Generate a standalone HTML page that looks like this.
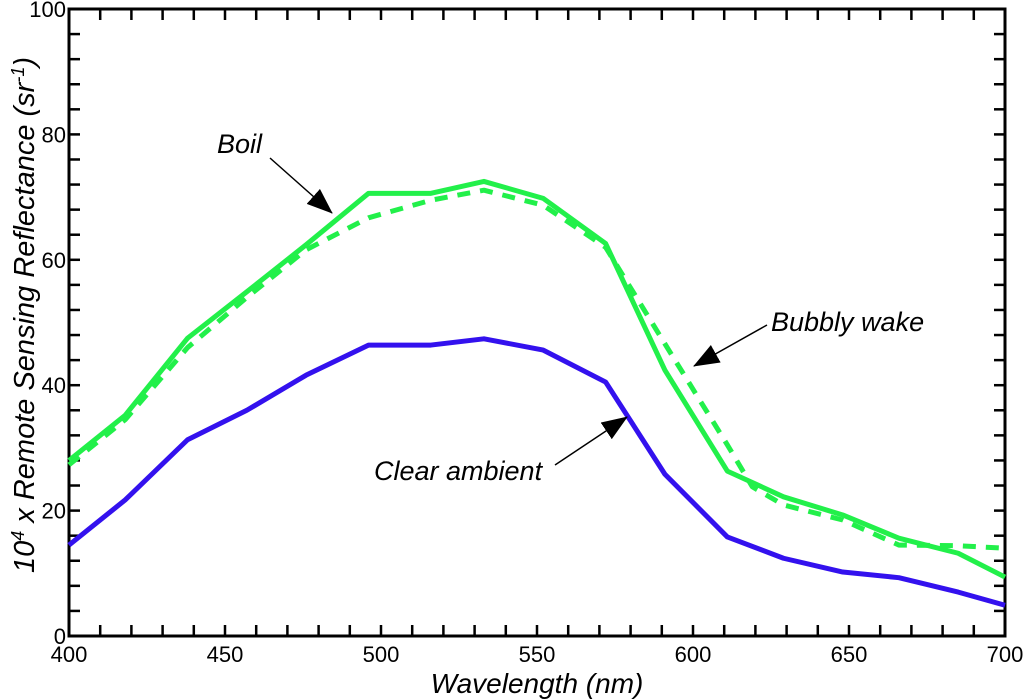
<!DOCTYPE html>
<html><head><meta charset="utf-8"><style>
html,body{margin:0;padding:0;background:#fff;}
svg{display:block;font-family:"Liberation Sans",Arial,sans-serif;}
</style></head><body>
<svg id="chart" width="1024" height="700">
<defs><marker id="ah" markerWidth="26" markerHeight="20" refX="25" refY="10" orient="auto" markerUnits="userSpaceOnUse" viewBox="0 0 26 20"><path d="M0,0 L26,10 L0,20 z" fill="#000"/></marker></defs>
<g id="grid"></g>
<g id="series"></g>
<g id="ann"></g>
</svg>
<script>
const wavelengths=[400,418,438,457,476,496,516,533,552,572,591,611,629,648,666,685,700];
const boil=[28,35.2,47.5,54.9,62.4,70.6,70.6,72.5,69.8,62.6,42.4,26.3,22.2,19.3,15.6,13.2,9.4];
const clear=[14.5,21.7,31.3,36,41.6,46.4,46.4,47.4,45.6,40.5,25.8,15.8,12.4,10.2,9.3,7.0,4.9];
const bubblyWavelengths=[400,418,438,457,476,496,516,533,552,572,591,611,619,629,648,666,685,700];
const bubbly=[27.3,34.5,46,54,61.6,66.7,69.5,71.1,68.7,62,46.6,30.5,23.8,20.9,18.5,14.5,14.4,14];
const xTicks=[400,450,500,550,600,650,700];
const yTicks=[0,20,40,60,80,100];
const NS="http://www.w3.org/2000/svg";
const X0=69,X1=1005,Y0=636,Y1=9;
const sx=v=>X0+(v-400)/300*(X1-X0);
const sy=v=>Y0-v/100*(Y0-Y1);
function mk(t,a,p){const e=document.createElementNS(NS,t);for(const k in a)e.setAttribute(k,a[k]);(p||document.getElementById('grid')).appendChild(e);return e;}
const frame=mk('rect',{x:X0,y:Y1,width:X1-X0,height:Y0-Y1,fill:'none',stroke:'#000','stroke-width':3});


for(let v=400;v<=700;v+=10){
 const x=sx(v);
 const t1=mk('line',{x1:x,y1:Y0,x2:x,y2:Y0-11,stroke:'#000','stroke-width':2.5});
 
 
 const t2=mk('line',{x1:x,y1:Y1,x2:x,y2:Y1+11,stroke:'#000','stroke-width':2.5});
 
 
}
for(let v=0;v<=100;v+=4){
 const y=sy(v);
 const t1=mk('line',{x1:X0,y1:y,x2:X0+11,y2:y,stroke:'#000','stroke-width':2.5});
 
 
 const t2=mk('line',{x1:X1,y1:y,x2:X1-11,y2:y,stroke:'#000','stroke-width':2.5});
 
 
}
xTicks.forEach(v=>{const t=mk('text',{x:sx(v),y:662,'text-anchor':'middle','font-size':22});t.textContent=v;
 
 });
yTicks.forEach(v=>{const t=mk('text',{x:X0-3,y:sy(v)+8,'text-anchor':'end','font-size':22});t.textContent=v;
 
 });
const xt=mk('text',{x:537,y:693,'text-anchor':'middle','font-size':28,'font-style':'italic'});xt.textContent='Wavelength (nm)';


const yt=mk('text',{x:0,y:0,'text-anchor':'middle','font-size':29,'font-style':'italic',transform:'translate(34,315) rotate(-90)'});
yt.innerHTML='10<tspan dy="-10" font-size="18">4</tspan><tspan dy="10"> x Remote Sensing Reflectance (sr</tspan><tspan dy="-10" font-size="18">-1</tspan><tspan dy="10">)</tspan>';


const s=document.getElementById('series');
function line(xs,data,color,dash,name){
 const p=mk('polyline',{points:data.map((v,i)=>sx(xs[i])+','+sy(v)).join(' '),fill:'none',stroke:color,'stroke-width':5,'stroke-linejoin':'round'},s);
 if(dash)p.setAttribute('stroke-dasharray',dash);
 
 
}
line(wavelengths,clear,'#3311ee',null,'clear-ambient-line');
line(bubblyWavelengths,bubbly,'#22f04a','13 10','bubbly-wake-line');
line(wavelengths,boil,'#22f04a',null,'boil-line');
const a=document.getElementById('ann');
function ann(txt,tx,ty,x1,y1,x2,y2,name){
 const t=mk('text',{x:tx,y:ty,'font-size':27,'font-style':'italic'},a);t.textContent=txt;
 
 
 const l=mk('line',{x1:x1,y1:y1,x2:x2,y2:y2,stroke:'#000','stroke-width':1.5,'marker-end':'url(#ah)'},a);
 
 
}
ann('Boil',217,153,270,158,332,213,'boil');
ann('Bubbly wake',771,331,767,325,694,366,'bubbly-wake');
ann('Clear ambient',374,480,555,465,627,417,'clear-ambient');
</script>
</body></html>
